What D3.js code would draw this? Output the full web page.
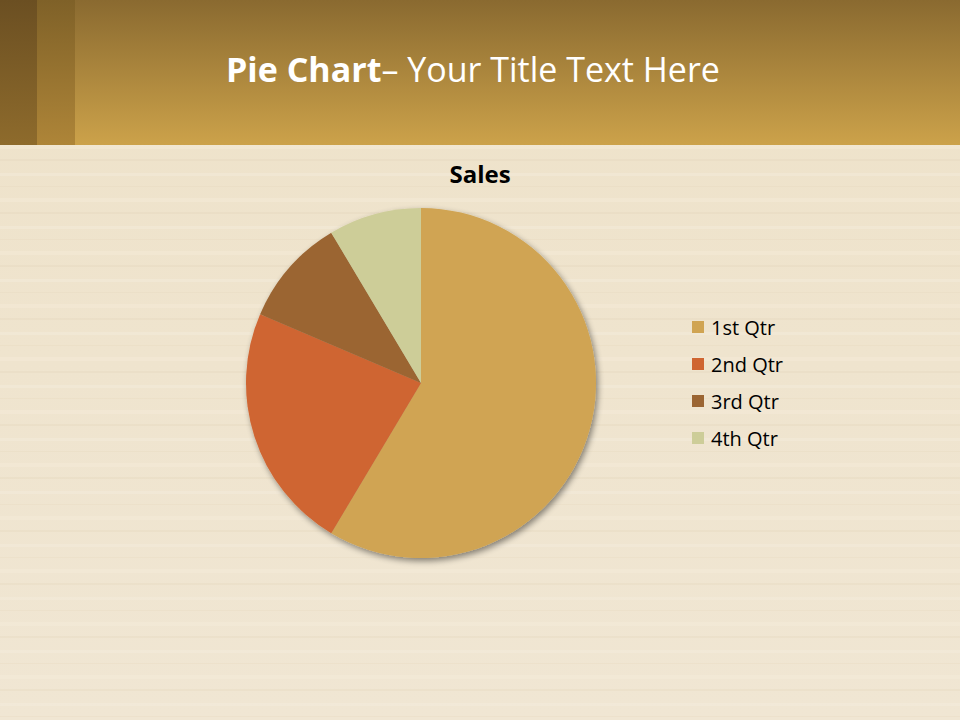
<!DOCTYPE html>
<html><head><meta charset="utf-8">
<script src="https://cdn.jsdelivr.net/npm/d3@7"></script>
<style>html,body{margin:0;padding:0;background:#efe5d0;}svg{display:block;}</style>
</head><body>
<script>
const categories = ["1st Qtr", "2nd Qtr", "3rd Qtr", "4th Qtr"];
const sales = [8.2, 3.2, 1.4, 1.2];
const colors = ["#d0a452", "#cf6531", "#9b6532", "#cdcd98"];
const chartTitle = "Sales";

const W = 960, H = 720;
const svg = d3.select("body").append("svg").attr("width", W).attr("height", H);
const defs = svg.append("defs");

// background wood-like texture
const bg = defs.append("linearGradient").attr("id","bgGrad").attr("x1",0).attr("y1",0).attr("x2",0).attr("y2",1);
bg.append("stop").attr("offset","0%").attr("stop-color","#eee2c9");
bg.append("stop").attr("offset","100%").attr("stop-color","#f0e6d3");
svg.append("rect").attr("width",W).attr("height",H).attr("fill","url(#bgGrad)");
const pat = defs.append("pattern").attr("id","grain").attr("width",W).attr("height",53).attr("patternUnits","userSpaceOnUse");
pat.append("rect").attr("y",0).attr("width",W).attr("height",2).attr("fill","#e3d6ba").attr("opacity",0.3);
pat.append("rect").attr("y",14).attr("width",W).attr("height",3).attr("fill","#f6eedf").attr("opacity",0.4);
pat.append("rect").attr("y",27).attr("width",W).attr("height",1).attr("fill","#e2d4b6").attr("opacity",0.25);
pat.append("rect").attr("y",39).attr("width",W).attr("height",4).attr("fill","#f5ecdb").attr("opacity",0.35);
svg.append("rect").attr("y",145).attr("width",W).attr("height",H-145).attr("fill","url(#grain)");

// header band
const hg = defs.append("linearGradient").attr("id","hdr").attr("x1",0).attr("y1",0).attr("x2",0).attr("y2",1);
hg.append("stop").attr("offset","0%").attr("stop-color","#8a6a30");
hg.append("stop").attr("offset","100%").attr("stop-color","#cca24a");
svg.append("rect").attr("width",W).attr("height",145).attr("fill","url(#hdr)");
const s1 = defs.append("linearGradient").attr("id","strip1").attr("x1",0).attr("y1",0).attr("x2",0).attr("y2",1);
s1.append("stop").attr("offset","0%").attr("stop-color","#6b4f22");
s1.append("stop").attr("offset","100%").attr("stop-color","#8e6b2c");
const s2 = defs.append("linearGradient").attr("id","strip2").attr("x1",0).attr("y1",0).attr("x2",0).attr("y2",1);
s2.append("stop").attr("offset","0%").attr("stop-color","#7f6128");
s2.append("stop").attr("offset","100%").attr("stop-color","#ae8538");
svg.append("rect").attr("x",0).attr("width",37).attr("height",145).attr("fill","url(#strip1)");
svg.append("rect").attr("x",37).attr("width",38).attr("height",145).attr("fill","url(#strip2)");

// slide title
const t = svg.append("text").attr("x",226).attr("y",82)
  .attr("font-family","'Open Sans', Lato, sans-serif").attr("font-size",34).attr("fill","#ffffff");
t.append("tspan").attr("font-weight","bold").text("Pie Chart");
t.append("tspan").text("\u2013 Your Title Text Here");

// chart title
svg.append("text").attr("x",480).attr("y",183).attr("text-anchor","middle")
  .attr("font-family","'Open Sans', Lato, sans-serif").attr("font-weight","bold").attr("font-size",24)
  .attr("fill","#000").text(chartTitle);

// pie
const cx = 421, cy = 383, r = 175;
const f = defs.append("filter").attr("id","shadow").attr("x","-20%").attr("y","-20%").attr("width","140%").attr("height","140%");
f.append("feGaussianBlur").attr("in","SourceAlpha").attr("stdDeviation",3).attr("result","b");
f.append("feOffset").attr("in","b").attr("dx",2).attr("dy",3).attr("result","o");
f.append("feComponentTransfer").attr("in","o").attr("result","o2")
  .append("feFuncA").attr("type","linear").attr("slope",0.45);
const m = f.append("feMerge");
m.append("feMergeNode").attr("in","o2");
m.append("feMergeNode").attr("in","SourceGraphic");

const pie = d3.pie().sort(null).value(d => d)(sales);
const arc = d3.arc().innerRadius(0).outerRadius(r);
const color = d3.scaleOrdinal().domain(categories).range(colors);
const g = svg.append("g").attr("transform",`translate(${cx},${cy})`).attr("filter","url(#shadow)");
g.selectAll("path").data(pie).join("path")
  .attr("d", arc).attr("fill", (d,i) => color(categories[i]));

// legend
const leg = svg.append("g").attr("transform","translate(692,321)");
const y = d3.scalePoint().domain(categories).range([0,111]);
const items = leg.selectAll("g").data(categories).join("g").attr("transform", d => `translate(0,${y(d)})`);
items.append("rect").attr("width",12).attr("height",12).attr("fill", d => color(d));
items.append("text").attr("x",19).attr("y",13.5)
  .attr("font-family","'Open Sans', Lato, sans-serif").attr("font-size",20).attr("fill","#000").text(d => d);
</script>
</body></html>
